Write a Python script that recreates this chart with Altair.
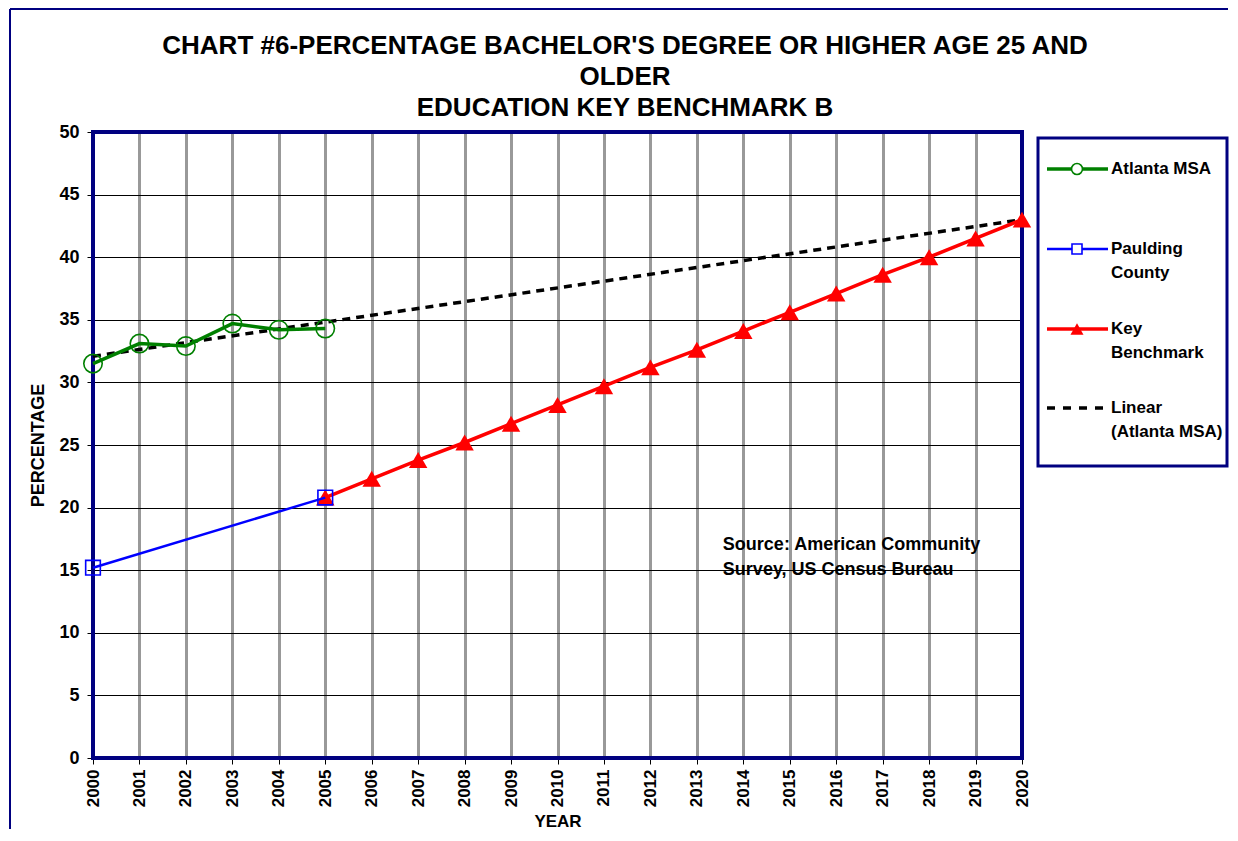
import altair as alt
import pandas as pd

# ---------------- data ----------------
atl_years = [2000, 2001, 2002, 2003, 2004, 2005]
atl_values = [31.5, 33.1, 32.9, 34.7, 34.2, 34.3]

paul_years = [2000, 2005]
paul_values = [15.2, 20.8]

key_years = [2005, 2006, 2007, 2008, 2009, 2010, 2011, 2012, 2013, 2014, 2015,
             2016, 2017, 2018, 2019, 2020]
key_values = [20.8, 22.3, 23.8, 25.2, 26.7, 28.2, 29.7, 31.2, 32.6, 34.1, 35.6,
              37.1, 38.6, 40.0, 41.5, 43.0]

x_tick_values = [2000, 2001, 2002, 2003, 2004, 2005, 2006, 2007, 2008, 2009, 2010,
                 2011, 2012, 2013, 2014, 2015, 2016, 2017, 2018, 2019, 2020]
y_tick_values = [0, 5, 10, 15, 20, 25, 30, 35, 40, 45, 50]

title_lines = ["CHART #6-PERCENTAGE BACHELOR'S DEGREE OR HIGHER AGE 25 AND",
               "OLDER",
               "EDUCATION KEY BENCHMARK B"]
source_lines = ["Source: American Community", "Survey, US Census Bureau"]
source_year = 2013.56
source_value = 17.0

legend_labels = [["Atlanta MSA"], ["Paulding", "County"], ["Key", "Benchmark"],
                 ["Linear", "(Atlanta MSA)"]]

# ---------------- style ----------------
FONT = "Liberation Sans, Arial, sans-serif"
NAVY = "#000080"
GREEN = "#008000"
BLUE = "#0000FF"
RED = "#FF0000"
FS = 18
W, H = 929, 626

atl_df = pd.DataFrame({"year": atl_years, "value": atl_values})
paul_df = pd.DataFrame({"year": paul_years, "value": paul_values})
key_df = pd.DataFrame({"year": key_years, "value": key_values})
one = pd.DataFrame({"a": [0]})

X = alt.X("year:Q",
          scale=alt.Scale(domain=[2000, 2020], nice=False, zero=False),
          axis=alt.Axis(values=x_tick_values, format="d", labelAngle=270, title="YEAR"))
Y = alt.Y("value:Q",
          scale=alt.Scale(domain=[0, 50], nice=False),
          axis=alt.Axis(values=y_tick_values, title="PERCENTAGE"))

layers = []

# plot border (drawn over gridlines, under data)
layers.append(alt.Chart(one).mark_rect(fill="transparent", stroke=NAVY, strokeWidth=4).encode(
    x=alt.value(0), x2=alt.value(W), y=alt.value(0), y2=alt.value(H)))

# trend line (linear regression of Atlanta MSA)
layers.append(alt.Chart(atl_df).transform_regression(
    "year", "value", extent=[2000, 2020]).mark_line(
    color="black", strokeWidth=3.5, strokeDash=[8, 6]).encode(x=X, y=Y))

# key benchmark
layers.append(alt.Chart(key_df).mark_line(color=RED, strokeWidth=3.5).encode(x=X, y=Y))
layers.append(alt.Chart(key_df).mark_point(shape="triangle-up", filled=True, color=RED,
                                           size=340, opacity=1).encode(x=X, y=Y))
# paulding
layers.append(alt.Chart(paul_df).mark_line(color=BLUE, strokeWidth=2.5).encode(x=X, y=Y))
layers.append(alt.Chart(paul_df).mark_point(shape="square", filled=False, color=BLUE,
                                            size=215, strokeWidth=1.6, opacity=1).encode(x=X, y=Y))
# atlanta
layers.append(alt.Chart(atl_df).mark_line(color=GREEN, strokeWidth=3.5).encode(x=X, y=Y))
layers.append(alt.Chart(atl_df).mark_point(shape="circle", filled=False, color=GREEN,
                                           size=340, strokeWidth=1.6, opacity=1).encode(x=X, y=Y))

# source note
for i, line in enumerate(source_lines):
    layers.append(alt.Chart(one).mark_text(
        align="left", baseline="middle", font=FONT, fontSize=FS, fontWeight="bold",
        color="black", dy=25 * i).encode(
        x=alt.datum(source_year), y=alt.datum(source_value), text=alt.value(line)))

# title
for i, line in enumerate(title_lines):
    layers.append(alt.Chart(one).mark_text(
        align="center", baseline="middle", font=FONT, fontSize=26, fontWeight="bold",
        color="black").encode(
        x=alt.value(532), y=alt.value(-86 + 31 * i), text=alt.value(line)))

# outer frame (left + top edges)
layers.append(alt.Chart(one).mark_rule(color=NAVY, strokeWidth=2).encode(
    x=alt.value(-83), y=alt.value(-123), y2=alt.value(697)))
layers.append(alt.Chart(one).mark_rule(color=NAVY, strokeWidth=2).encode(
    x=alt.value(-83), x2=alt.value(1135), y=alt.value(-123)))

# legend box
layers.append(alt.Chart(one).mark_rect(fill="white", stroke=NAVY, strokeWidth=3).encode(
    x=alt.value(945), x2=alt.value(1134), y=alt.value(6), y2=alt.value(334)))

legend_y = [37, 117, 197, 276]
legend_styles = [
    dict(color=GREEN, width=3.5, dash=None, shape="circle", filled=False, size=120),
    dict(color=BLUE, width=2.5, dash=None, shape="square", filled=False, size=100),
    dict(color=RED, width=3.5, dash=None, shape="triangle-up", filled=True, size=170),
    dict(color="black", width=3.5, dash=[8, 8], shape=None, filled=False, size=0),
]
for yy, labels, st in zip(legend_y, legend_labels, legend_styles):
    rule_kw = dict(color=st["color"], strokeWidth=st["width"])
    if st["dash"]:
        rule_kw["strokeDash"] = st["dash"]
    layers.append(alt.Chart(one).mark_rule(**rule_kw).encode(
        x=alt.value(954), x2=alt.value(1015), y=alt.value(yy)))
    if st["shape"]:
        layers.append(alt.Chart(one).mark_point(
            shape=st["shape"], filled=st["filled"], color=st["color"], size=st["size"],
            strokeWidth=1.6, opacity=1,
            fill=st["color"] if st["filled"] else "white").encode(
            x=alt.value(984), y=alt.value(yy)))
    for j, lab in enumerate(labels):
        layers.append(alt.Chart(one).mark_text(
            align="left", baseline="middle", font=FONT, fontSize=17, fontWeight="bold",
            color="black").encode(
            x=alt.value(1018), y=alt.value(yy + 24 * j), text=alt.value(lab)))

chart = alt.layer(*layers).properties(
    width=W, height=H,
    padding={"left": 1, "top": 0, "right": 0, "bottom": 0},
    background="white",
).configure_view(stroke=None).configure_axis(
    labelFont=FONT, labelFontSize=FS, labelFontWeight="bold", labelColor="black",
    titleFont=FONT, titleFontSize=FS, titleFontWeight="bold", titleColor="black",
    domain=False, ticks=True, tickColor="black", tickSize=6, tickWidth=1, grid=True,
).configure_axisX(
    gridColor="#999999", gridWidth=3, gridOpacity=1, labelPadding=5, titlePadding=7,
    labelFontSize=17, titleFontSize=17,
).configure_axisY(
    gridColor="black", gridWidth=1, gridOpacity=1, labelPadding=8, titlePadding=11,
)

chart.save("out.html", embed_options={"renderer": "svg", "actions": False})
